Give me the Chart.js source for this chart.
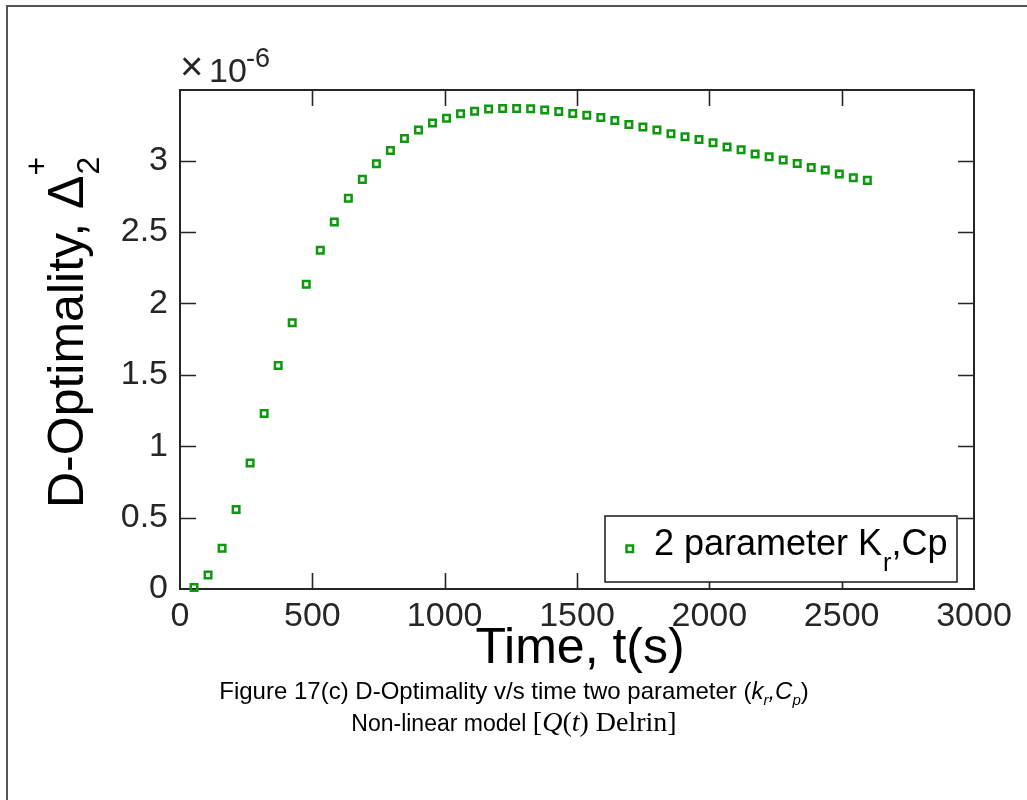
<!DOCTYPE html>
<html>
<head>
<meta charset="utf-8">
<script src="https://cdn.jsdelivr.net/npm/chart.js@4.4.1/dist/chart.umd.min.js"></script>
<style>
  html, body { margin:0; padding:0; background:#fff; }
  #wrap { position:relative; width:1027px; height:800px; overflow:hidden; background:#fff; }
  #c { position:absolute; left:0; top:0; }
  .frameL { position:absolute; left:6px; top:5px; width:2px; height:800px; background:#555; }
  .frameT { position:absolute; left:6px; top:5px; width:1027px; height:2px; background:#555; }
  .cap { position:absolute; left:14px; width:1000px; text-align:center; font-family:"Liberation Sans", Arial, sans-serif; color:#000; white-space:nowrap; }
  .tm { font-family:"Liberation Serif", "Times New Roman", serif; }
</style>
</head>
<body>
<div id="wrap">
  <canvas id="c" width="1027" height="800"></canvas>
  <div class="frameL"></div>
  <div class="frameT"></div>
  <div class="cap" id="cap1" style="top:677px; font-size:24px;">Figure 17(c) D-Optimality v/s time two parameter (<i>k<sub style="font-size:15px">r</sub>,C<sub style="font-size:15px">p</sub></i>)</div>
  <div class="cap" id="cap2" style="top:706px; font-size:23px;">Non-linear model <span class="tm" style="font-size:28px;">[<i>Q</i>(<i>t</i>) Delrin]</span></div>
</div>
<script>
// ---- data (values in units of 1e-6) ----
const timeSeconds = [53,106,159,212,265,318,371,424,477,530,583,636,689,742,795,848,901,954,1007,1060,1113,1166,1219,1272,1325,1378,1431,1484,1537,1590,1643,1696,1749,1802,1855,1908,1961,2014,2067,2120,2173,2226,2279,2332,2385,2438,2491,2544,2597];
const dOptimalityE6 = [0.010,0.098,0.285,0.556,0.883,1.229,1.565,1.865,2.135,2.373,2.570,2.736,2.869,2.979,3.072,3.156,3.214,3.264,3.297,3.329,3.346,3.362,3.365,3.365,3.363,3.355,3.345,3.330,3.318,3.302,3.282,3.254,3.235,3.215,3.189,3.168,3.149,3.126,3.095,3.076,3.046,3.027,3.005,2.981,2.953,2.934,2.906,2.880,2.862];
const xTickValues = [0,500,1000,1500,2000,2500,3000];
const yTickValues = [0,0.5,1,1.5,2,2.5,3];
const seriesLabel = "2 parameter K";

const FONT = '"Liberation Sans", Arial, sans-serif';
const AX = '#262626';
const GREEN = '#0d980d';

const points = timeSeconds.map((t, i) => ({ x: t, y: dOptimalityE6[i] }));

const axesPlugin = {
  id: 'matlabAxes',
  beforeDatasetsDraw(chart) {
    const { ctx, chartArea: a, scales } = chart;
    ctx.save();
    ctx.strokeStyle = AX;
    ctx.lineWidth = 1.6;
    const tl = 16;
    ctx.beginPath();
    scales.x.ticks.forEach(t => {
      const px = Math.round(scales.x.getPixelForValue(t.value)) + 0.5;
      if (px < a.left + 2 || px > a.right - 2) return;
      ctx.moveTo(px, a.bottom); ctx.lineTo(px, a.bottom - tl);
      ctx.moveTo(px, a.top); ctx.lineTo(px, a.top + tl);
    });
    scales.y.ticks.forEach(t => {
      const py = Math.round(scales.y.getPixelForValue(t.value)) + 0.5;
      if (py > a.bottom - 2 || py < a.top + 2) return;
      ctx.moveTo(a.left, py); ctx.lineTo(a.left + tl, py);
      ctx.moveTo(a.right, py); ctx.lineTo(a.right - tl, py);
    });
    ctx.stroke();
    ctx.lineWidth = 2;
    ctx.strokeRect(a.left, a.top, a.right - a.left, a.bottom - a.top);
    ctx.restore();
  },
  afterDraw(chart) {
    const { ctx, chartArea: a } = chart;
    ctx.save();
    // exponent label
    ctx.fillStyle = AX;
    ctx.textBaseline = 'alphabetic';
    ctx.font = '40px ' + FONT;
    ctx.fillText('\u00D7', 180, 80);
    ctx.font = '34px ' + FONT;
    ctx.fillText('10', 209, 82);
    ctx.font = '27px ' + FONT;
    ctx.fillText('-6', 246, 67);

    // y title (rotated)
    ctx.fillStyle = '#000';
    ctx.translate(83, 508);
    ctx.rotate(-Math.PI / 2);
    ctx.font = '50px ' + FONT;
    const main = 'D-Optimality, \u0394';
    ctx.fillText(main, 0, 0);
    const w = ctx.measureText(main).width;
    ctx.font = '32px ' + FONT;
    ctx.fillText('2', w + 1, 16);
    ctx.fillText('+', w, -36);
    ctx.setTransform(1, 0, 0, 1, 0, 0);

    // x title
    ctx.font = '50px ' + FONT;
    ctx.textAlign = 'center';
    ctx.fillText('Time, t(s)', (a.left + a.right) / 2 + 3, 663);
    ctx.textAlign = 'left';

    // legend box
    const lx = 605, ly = 516, lw = 352, lh = 66;
    ctx.fillStyle = '#fff';
    ctx.fillRect(lx, ly, lw, lh);
    ctx.strokeStyle = AX;
    ctx.lineWidth = 1.6;
    ctx.strokeRect(lx, ly, lw, lh);
    ctx.strokeStyle = GREEN;
    ctx.lineWidth = 2.5;
    ctx.strokeRect(626.5, 545.5, 6.5, 6.5);
    ctx.fillStyle = '#000';
    ctx.font = '36px ' + FONT;
    ctx.fillText(seriesLabel, 654, 555);
    let tx = 654 + ctx.measureText(seriesLabel).width;
    ctx.font = '25px ' + FONT;
    ctx.fillText('r', tx + 1, 571);
    tx += ctx.measureText('r').width + 1;
    ctx.font = '36px ' + FONT;
    ctx.fillText(',Cp', tx, 555);
    ctx.restore();
  }
};

new Chart(document.getElementById('c'), {
  type: 'scatter',
  data: {
    datasets: [{
      label: seriesLabel,
      data: points,
      showLine: false,
      pointStyle: 'rect',
      pointRadius: 4.6,
      pointHoverRadius: 4.6,
      pointBorderWidth: 2.5,
      pointBorderColor: GREEN,
      pointBackgroundColor: 'rgba(0,0,0,0)',
      clip: false
    }]
  },
  options: {
    responsive: false,
    animation: false,
    devicePixelRatio: 1,
    layout: { padding: { left: 0, top: 90, right: 53, bottom: 0 } },
    plugins: { legend: { display: false }, tooltip: { enabled: false } },
    scales: {
      x: {
        type: 'linear', min: 0, max: 3000,
        afterBuildTicks: s => { s.ticks = xTickValues.map(v => ({ value: v })); },
        afterFit: s => { s.height = 211; },
        grid: { display: false, drawTicks: false, tickLength: 0 },
        border: { display: false },
        ticks: { font: { family: FONT, size: 34 }, color: AX, padding: 7, maxRotation: 0, autoSkip: false, callback: v => String(v) }
      },
      y: {
        type: 'linear', min: 0, max: 3.495,
        afterBuildTicks: s => { s.ticks = yTickValues.map(v => ({ value: v })); },
        afterFit: s => { s.width = 180; },
        grid: { display: false, drawTicks: false, tickLength: 0 },
        border: { display: false },
        ticks: { font: { family: FONT, size: 34 }, color: AX, padding: 12, autoSkip: false, callback: v => String(v) }
      }
    }
  },
  plugins: [axesPlugin]
});
</script>
</body>
</html>
